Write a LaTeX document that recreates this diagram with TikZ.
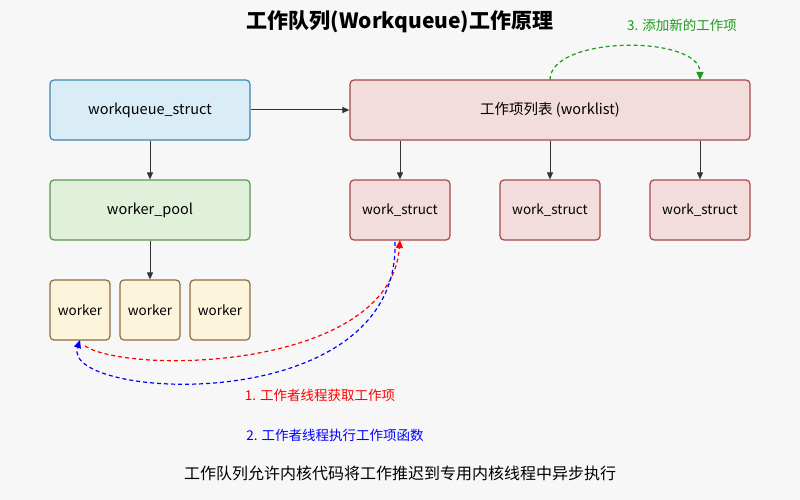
\documentclass[tikz,border=0pt]{standalone}
\usepackage{fontspec}
\setmainfont{Noto Sans CJK SC}
\usetikzlibrary{arrows.meta}
\definecolor{bbg}{HTML}{DAEDF6}\definecolor{bbd}{HTML}{3F86AE}
\definecolor{rbg}{HTML}{F3DCDC}\definecolor{rbd}{HTML}{A8474A}
\definecolor{gbg}{HTML}{E0F0D9}\definecolor{gbd}{HTML}{5B9650}
\definecolor{ybg}{HTML}{FDF4DC}\definecolor{ybd}{HTML}{8A6E3E}
\definecolor{ar}{HTML}{333333}\definecolor{gr}{HTML}{1E9A1E}
\begin{document}
\begin{tikzpicture}[x=1pt,y=-1pt,
 box/.style={draw,line width=1.2pt,rounded corners=4pt,inner sep=0pt,font=\fontsize{14.5}{16}\selectfont},
 sm/.style={font=\fontsize{13.5}{15}\selectfont},
 arr/.style={-{Triangle[length=7pt,width=6pt]},ar,line width=1pt},
 dsh/.style={dashed,line width=1.2pt,dash pattern=on 4pt off 3pt,-{Triangle[length=8pt,width=7pt]}}]
\fill[white!97!black] (0,0) rectangle (800,500);
\useasboundingbox (0,0) rectangle (800,500);
\node[font=\fontsize{21}{24}\selectfont\bfseries] (t) at (400,22) {工作队列(Workqueue)工作原理};
\node[box,fill=bbg,draw=bbd,minimum width=200pt,minimum height=60pt] (wq) at (150,110) {workqueue\_struct};
\node[box,fill=rbg,draw=rbd,minimum width=400pt,minimum height=60pt] (wl) at (550,110) {工作项列表 (worklist)};
\node[box,fill=gbg,draw=gbd,minimum width=200pt,minimum height=60pt] (wp) at (150,210) {worker\_pool};
\foreach \n/\x in {1/400,2/550,3/700}
 \node[box,sm,fill=rbg,draw=rbd,minimum width=100pt,minimum height=60pt] (ws\n) at (\x,210) {work\_struct};
\foreach \n/\x in {1/80,2/150,3/220}
 \node[box,sm,fill=ybg,draw=ybd,minimum width=60pt,minimum height=60pt] (w\n) at (\x,310) {worker};
\draw[arr] (wq) -- (wl);
\draw[arr] (wq) -- (wp);
\draw[arr] (wp) -- (w2);
\foreach \n/\x in {1/400,2/550,3/700} \draw[arr] (wl.south -| ws\n) -- (ws\n);
\coordinate (g1) at (550,80); \coordinate (g2) at (700,80);
\draw[dsh,gr] (g1) .. controls (550,35) and (700,35) .. (g2);
\node[gr,sm] (l3) at (682,25) {3. 添加新的工作项};
\coordinate (r1) at (85,346); \coordinate (r2) at (400,240);
\draw[dsh,red] (r1) .. controls (130,375) and (390,370) .. (r2);
\coordinate (b1) at (395,242); \coordinate (b2) at (80,340);
\draw[dsh,blue] (b1) .. controls (400,420) and (60,400) .. (b2);
\node[red,sm] (l1) at (320,395) {1. 工作者线程获取工作项};
\node[blue,sm] (l2) at (335,435) {2. 工作者线程执行工作项函数};
\node[font=\fontsize{16}{18}\selectfont] (f) at (400,473) {工作队列允许内核代码将工作推迟到专用内核线程中异步执行};
\end{tikzpicture}
\end{document}
